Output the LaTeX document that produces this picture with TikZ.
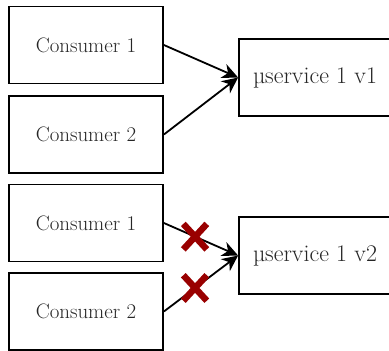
\documentclass[tikz,border=0pt]{standalone}
\usepackage{fontspec}
\usetikzlibrary{arrows.meta,shapes.misc}
\definecolor{txt}{HTML}{262626}
\definecolor{stop}{HTML}{990000}
\tikzset{
  box/.style={draw=black, line width=1.8bp, rectangle, inner sep=0pt,
    text=txt, font=\fontsize{21}{24}\selectfont},
  consumer/.style={box, minimum width=154bp, minimum height=77bp},
  service/.style={box, minimum width=152bp, minimum height=77bp,
    font=\fontsize{24}{28}\selectfont},
  link/.style={line width=1.8bp, -{Stealth[length=16bp,width=15bp,inset=5bp]}},
  blocked/.style={cross out, draw=stop, line width=6.5bp, inner sep=0pt,
    minimum width=17bp, minimum height=19bp}
}
\begin{document}
\begin{tikzpicture}[x=1bp,y=-1bp]
  \clip (0,0) rectangle (389,351);
  \useasboundingbox (0,0) rectangle (389,351);
  % version 1: both consumers reach the service
  \node[consumer] (c1a) at (86,45) {Consumer \oldstylenums{1}};
  \node[consumer] (c2a) at (86,134.5) {Consumer \oldstylenums{2}};
  \node[service] (s1) at (315,77.5) {µservice 1 v1};
  \draw[link] (c1a.east) -- (s1.west);
  \draw[link] (c2a.east) -- (s1.west);
  % version 2: both calls are broken
  \node[consumer] (c1b) at (86,223) {Consumer \oldstylenums{1}};
  \node[consumer] (c2b) at (86,311.5) {Consumer \oldstylenums{2}};
  \node[service] (s2) at (315,255.5) {µservice 1 v2};
  \draw[link] (c1b.east) -- (s2.west);
  \draw[link] (c2b.east) -- (s2.west);
  \path (c1b.east) -- node[pos=0.42, blocked] (x1) {} (s2.west);
  \path (c2b.east) -- node[pos=0.42, blocked] (x2) {} (s2.west);
\end{tikzpicture}
\end{document}
